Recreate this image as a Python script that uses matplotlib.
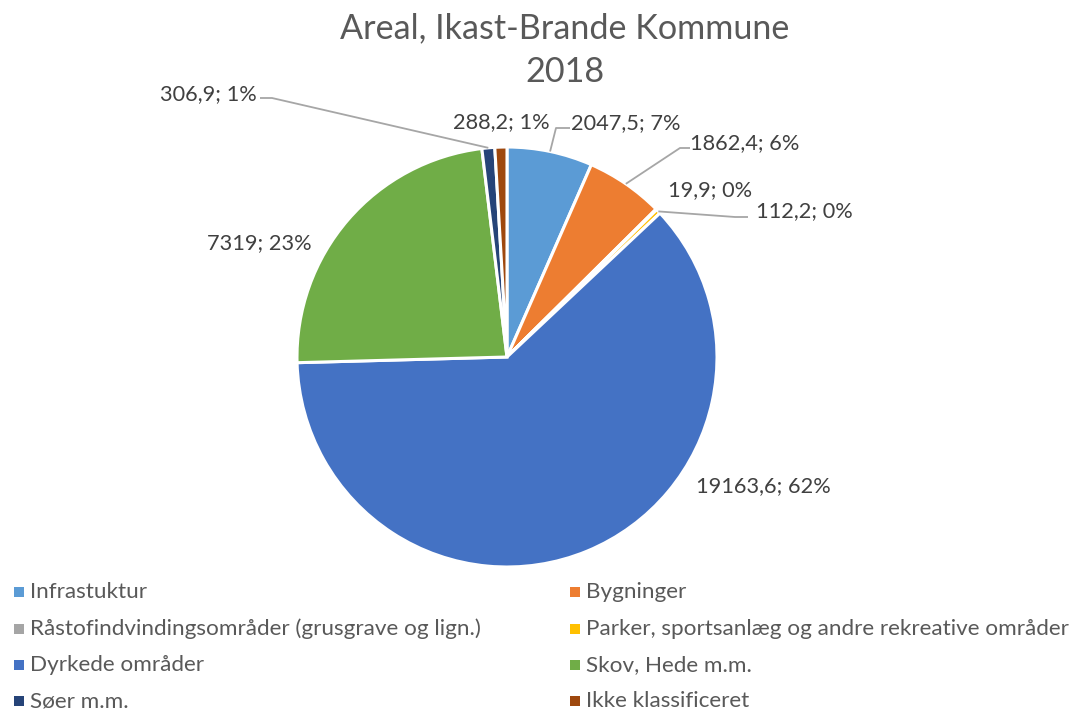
import numpy as np
import matplotlib.pyplot as plt
from matplotlib.patches import Rectangle

plt.rcParams['font.family'] = ['Lato', 'DejaVu Sans']

# data
categories = ["Infrastuktur", "Bygninger",
              "Råstofindvindingsområder (grusgrave og lign.)",
              "Parker, sportsanlæg og andre rekreative områder",
              "Dyrkede områder", "Skov, Hede m.m.", "Søer m.m.",
              "Ikke klassificeret"]
areal = [2047.5, 1862.4, 19.9, 112.2, 19163.6, 7319, 306.9, 288.2]
procent = [7, 6, 0, 0, 62, 23, 1, 1]
farver = ["#5B9BD5", "#ED7D31", "#A5A5A5", "#FFC000",
          "#4472C4", "#70AD47", "#264478", "#9E480E"]

W, H = 1091, 711
cx, cy, R = 507, 357, 210
grey = "#595959"
dark = "#404040"

fig = plt.figure(figsize=(W / 100, H / 100), dpi=100)
ax = fig.add_axes([(cx - R) / W, (H - cy - R) / H, 2 * R / W, 2 * R / H])
wedges, _ = ax.pie(areal, colors=farver, startangle=90, counterclock=False,
                   radius=1, wedgeprops=dict(edgecolor="white", linewidth=2.2))
ax.set_xlim(-1, 1)
ax.set_ylim(-1, 1)
ax.set_aspect("equal")
ax.axis("off")


def px2d(x, y):
    return (x - cx) / R, (cy - y) / R


# label centre (px) and leader elbow (px) or None
label_pos = [(626, 123), (745, 143), (710, 190), (804, 211),
             (763, 486), (259, 243), (208, 94), (501, 122)]
elbows = [((556, 128), (570, 128)), ((680, 148), (690, 148)), None,
          ((735, 217), (748, 217)), None, None,
          ((272, 98), (260, 98)), None]

for i, w in enumerate(wedges):
    txt = f"{areal[i]:g}".replace(".", ",") + f"; {procent[i]}%"
    tx, ty = px2d(*label_pos[i])
    ax.text(tx, ty, txt, ha="center", va="center", fontsize=15.7,
            color=dark, clip_on=False)
    if elbows[i] is not None:
        a = np.deg2rad((w.theta1 + w.theta2) / 2)
        ex, ey = px2d(*elbows[i][0])
        fx, fy = px2d(*elbows[i][1])
        ax.plot([np.cos(a), ex, fx], [np.sin(a), ey, fy], color="#A6A6A6",
                lw=1.3, clip_on=False, solid_capstyle="butt")

fig.text(565 / W, 1 - 28 / H, "Areal, Ikast-Brande Kommune",
         ha="center", va="center", fontsize=24.6, color=grey)
fig.text(565 / W, 1 - 72 / H, "2018",
         ha="center", va="center", fontsize=24.6, color=grey)

# legend, two columns
col_x = [14, 570]
row_y = [592, 629, 665, 701]
for i, lab in enumerate(categories):
    x = col_x[i % 2]
    y = row_y[i // 2]
    fig.patches.append(Rectangle((x / W, 1 - (y + 5) / H), 10 / W, 10 / H,
                                 transform=fig.transFigure,
                                 facecolor=farver[i], edgecolor="none"))
    fig.text((x + 16) / W, 1 - y / H, lab, ha="left", va="center",
             fontsize=16.2, color=grey)

fig.savefig("out.png", dpi=100)
